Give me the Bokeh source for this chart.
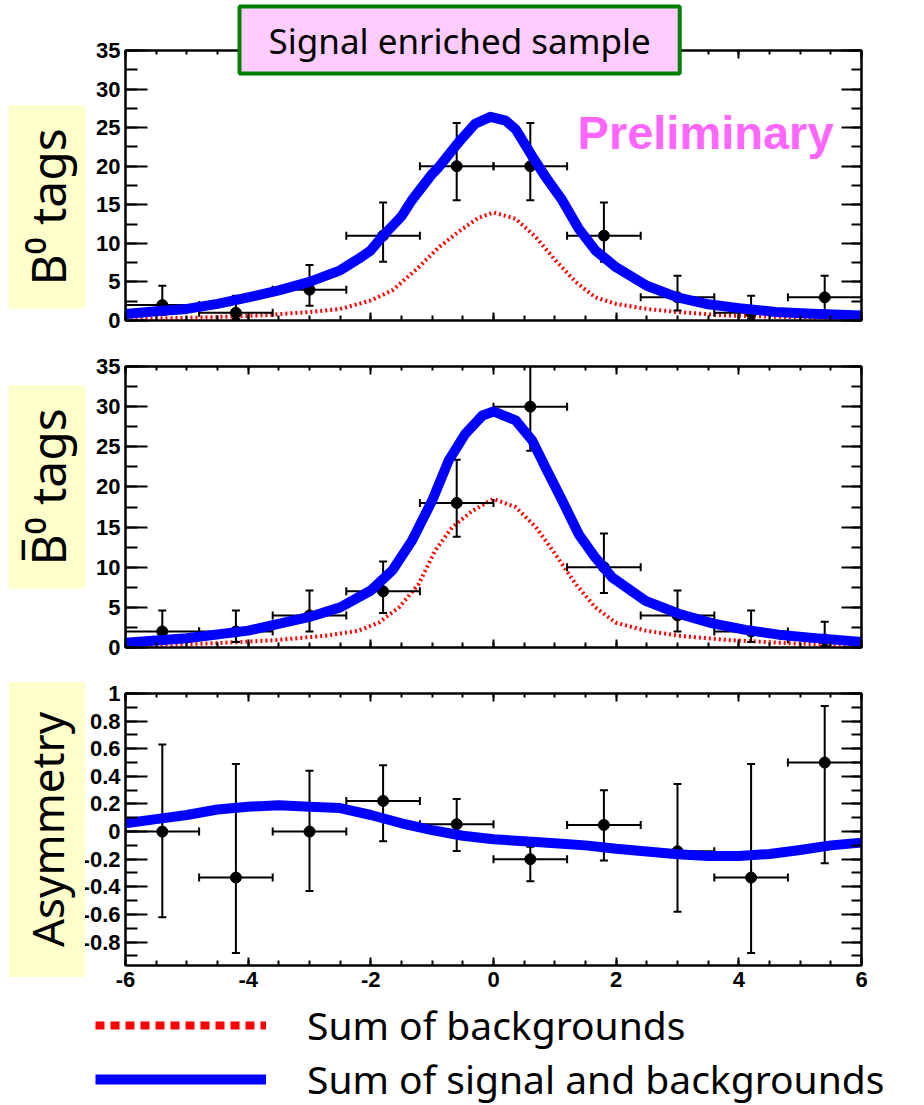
import math
from bokeh.plotting import figure
from bokeh.layouts import column
from bokeh.models import (Range1d, LinearAxis, Label, Legend, LegendItem, ColumnDataSource,
                          CustomJSTickFormatter, SingleIntervalTicker, Title)
from bokeh.embed import file_html
from bokeh.resources import INLINE

# ---------------- data ----------------
bin_centers = [-5.4, -4.2, -3.0, -1.8, -0.6, 0.6, 1.8, 3.0, 4.2, 5.4]
bin_half_width = 0.6

# B0 tags
b0_counts = [2, 1, 4, 11, 20, 20, 11, 3, 1, 3]
b0_err_hi = [4.5, 3.2, 7.2, 15.3, 25.6, 25.6, 15.3, 5.8, 3.2, 5.8]
b0_err_lo = [0.7, 0.2, 1.9, 7.6, 15.6, 15.6, 7.6, 1.3, 0.2, 1.3]

b0_fit_x = [-6, -5.5, -5, -4.5, -4, -3.5, -3, -2.5, -2.2, -2, -1.8, -1.5, -1.33, -1, -0.89,
            -0.57, -0.3, -0.05, 0.2, 0.36, 0.63, 0.85, 1.12, 1.39, 1.66, 2, 2.5, 3, 3.5, 4,
            4.6, 5.2, 6]
b0_fit_y = [0.85, 1.2, 1.5, 2.15, 3.0, 3.9, 5.0, 6.5, 8.0, 9.1, 11.0, 13.5, 15.6, 19.0, 19.9,
            23.1, 25.5, 26.4, 25.9, 24.8, 21.3, 18.6, 15.6, 11.9, 9.1, 6.9, 4.5, 3.0, 2.1, 1.6,
            1.1, 0.87, 0.65]
b0_bkg_x = [-6, -4.9, -3.8, -3, -2.5, -2, -1.65, -1.22, -0.89, -0.57, -0.25, 0, 0.36, 0.69,
            1.01, 1.34, 1.66, 2, 2.5, 3, 3.8, 4.9, 6]
b0_bkg_y = [0.2, 0.35, 0.65, 1.1, 1.5, 2.6, 3.9, 6.9, 9.5, 11.5, 13.3, 14.0, 13.2, 10.8,
            7.8, 5.0, 3.0, 2.15, 1.5, 1.1, 0.65, 0.43, 0.2]

# B0-bar tags
b0bar_counts = [2, 2, 4, 7, 18, 30, 10, 4, 2, 1]
b0bar_err_hi = [4.6, 4.6, 7.1, 10.7, 23.4, 36.6, 14.2, 7.1, 4.6, 3.2]
b0bar_err_lo = [0.7, 0.7, 2.0, 4.3, 13.8, 24.5, 6.8, 2.0, 0.7, 0.2]

b0bar_fit_x = [-6, -5, -4, -3, -2.5, -2, -1.65, -1.33, -1, -0.73, -0.46, -0.18, 0, 0.36, 0.63,
               0.85, 1.12, 1.39, 1.66, 1.94, 2.48, 3.02, 3.57, 4.11, 4.65, 5.2, 6]
b0bar_fit_y = [0.6, 1.15, 2.1, 3.8, 5.0, 7.1, 9.6, 13.3, 18.3, 23.3, 26.6, 28.9, 29.4, 28.3,
               25.8, 22.4, 18.3, 14.1, 11.2, 8.7, 5.8, 4.2, 3.0, 2.2, 1.6, 1.2, 0.7]
b0bar_bkg_x = [-6, -4.64, -3.55, -2.74, -2.2, -1.87, -1.54, -1.22, -0.95, -0.67, -0.35, 0,
               0.36, 0.69, 1.01, 1.34, 1.66, 1.99, 2.48, 3.02, 3.84, 4.92, 6]
b0bar_bkg_y = [0.2, 0.5, 0.92, 1.46, 2.1, 3.1, 5.0, 7.9, 12.1, 15.0, 17.0, 18.5, 17.5, 15.0,
               11.6, 7.9, 5.0, 3.1, 2.1, 1.46, 0.92, 0.5, 0.2]

# Asymmetry
asym_vals = [0.0, -0.333, 0.0, 0.222, 0.053, -0.2, 0.048, -0.143, -0.333, 0.5]
asym_err_hi = [0.63, 0.49, 0.44, 0.48, 0.235, -0.11, 0.30, 0.345, 0.49, 0.91]
asym_err_lo = [-0.62, -0.88, -0.43, -0.07, -0.14, -0.36, -0.21, -0.58, -0.88, -0.23]

asym_fit_x = [-6, -5.5, -5, -4.5, -4, -3.5, -3, -2.5, -2, -1.5, -1, -0.5, 0, 0.5, 1, 1.5, 2,
              2.5, 3, 3.5, 4, 4.5, 5, 5.5, 6]
asym_fit_y = [0.06, 0.09, 0.12, 0.16, 0.18, 0.19, 0.18, 0.17, 0.12, 0.06, 0.01, -0.03, -0.055,
              -0.07, -0.085, -0.10, -0.125, -0.145, -0.165, -0.177, -0.177, -0.162, -0.133,
              -0.10, -0.08]

legend_labels = ["Sum of backgrounds", "Sum of signal and backgrounds"]

# ---------------- styling helpers ----------------
TICK_FONT = "Liberation Sans"
LABEL_FONT = "Noto Sans"
FMT = CustomJSTickFormatter(code="""
    const v = Math.round(tick * 10) / 10;
    return (Math.abs(v) < 1e-9 ? 0 : v).toString();
""")
BLANK = CustomJSTickFormatter(code="return '';")


def make_panel(frame_h, top_b, bot_b, y0, y1, y_interval, show_x_labels):
    p = figure(frame_width=736, frame_height=frame_h, x_range=Range1d(-6, 6),
               y_range=Range1d(y0, y1), toolbar_location=None, output_backend="svg",
               min_border_left=125, min_border_right=59, min_border_top=top_b,
               min_border_bottom=bot_b)
    p.grid.visible = False
    p.outline_line_color = "black"
    p.outline_line_width = 2
    p.background_fill_color = "white"

    xt = SingleIntervalTicker(interval=2, num_minor_ticks=4)
    yt = SingleIntervalTicker(interval=y_interval, num_minor_ticks=2)

    ax = p.xaxis[0]
    ax.ticker = xt
    ax.formatter = FMT if show_x_labels else BLANK
    ax.major_tick_in, ax.major_tick_out = 8, 0
    ax.minor_tick_in, ax.minor_tick_out = 5, 0
    ay = p.yaxis[0]
    ay.ticker = yt
    ay.formatter = FMT
    ay.major_tick_in, ay.major_tick_out = 22, 0
    ay.minor_tick_in, ay.minor_tick_out = 12, 0

    top = LinearAxis(ticker=xt, formatter=BLANK, major_label_text_font_size="0px",
                     major_label_standoff=0,
                     major_tick_in=8, major_tick_out=0, minor_tick_in=4, minor_tick_out=0)
    right = LinearAxis(ticker=yt, formatter=BLANK, major_label_text_font_size="0px",
                       major_label_standoff=0,
                       major_tick_in=20, major_tick_out=0, minor_tick_in=10, minor_tick_out=0)
    p.add_layout(top, "above")
    p.add_layout(right, "right")

    for a in (ax, ay, top, right):
        a.axis_line_width = 2
        a.axis_line_color = "black"
        a.major_tick_line_width = 2
        a.minor_tick_line_width = 2
        a.major_tick_line_color = "black"
        a.minor_tick_line_color = "black"
        a.major_label_text_font = TICK_FONT
        a.major_label_text_font_style = "bold"
        a.major_label_text_color = "black"
    ay.major_label_text_font_size = "22px"
    ay.major_label_standoff = 5
    if show_x_labels:
        ax.major_label_text_font_size = "22px"
        ax.major_label_standoff = 6
    else:
        ax.major_label_text_font_size = "0px"
        ax.major_label_standoff = 0
    return p


def draw_points(p, vals, hi, lo):
    src = ColumnDataSource(dict(
        x=bin_centers, y=vals, hi=hi, lo=lo,
        xl=[c - bin_half_width for c in bin_centers],
        xr=[c + bin_half_width for c in bin_centers]))
    p.segment(x0="x", y0="lo", x1="x", y1="hi", source=src, line_color="black", line_width=2)
    p.segment(x0="xl", y0="y", x1="xr", y1="y", source=src, line_color="black", line_width=2)
    p.scatter(x="x", y="hi", marker="dash", size=8, line_color="black", line_width=2, source=src)
    p.scatter(x="x", y="lo", marker="dash", size=8, line_color="black", line_width=2, source=src)
    p.scatter(x="xl", y="y", marker="dash", angle=math.pi / 2, size=8, line_color="black",
              line_width=2, source=src)
    p.scatter(x="xr", y="y", marker="dash", angle=math.pi / 2, size=8, line_color="black",
              line_width=2, source=src)
    p.scatter(x="x", y="y", size=11, marker="circle", fill_color="black", line_color="black",
              source=src)


def side_title(p, text, align, offset, standoff, size, padding):
    p.add_layout(Title(text=text, align=align, offset=offset, standoff=standoff,
                       vertical_align="middle",
                       text_font=LABEL_FONT, text_font_size=size, text_font_style="normal",
                       text_color="black", background_fill_color="#ffffcc",
                       padding=padding), "left")


# ---------------- top panel: B0 tags ----------------
p1 = make_panel(270, 50, 20, 0, 35, 5, False)
p1.line(b0_bkg_x, b0_bkg_y, line_color="red", line_width=4, line_dash="2 3")
draw_points(p1, b0_counts, b0_err_hi, b0_err_lo)
p1.line(b0_fit_x, b0_fit_y, line_color="blue", line_width=10, line_join="round")
side_title(p1, "B\u2070 tags", "left", 12, -20, "48px", (23, 6))
p1.add_layout(Label(x=1.37, y=24.37, text="Preliminary", text_font="Liberation Sans",
                    text_font_size="47px", text_font_style="bold", text_color="#ff66ff",
                    text_align="left", text_baseline="alphabetic"))
p1.add_layout(Title(text="Signal enriched sample", align="left", offset=114, standoff=-50,
                    vertical_align="top",
                    text_font=LABEL_FONT, text_font_size="35px", text_font_style="normal",
                    text_color="black", background_fill_color="#ffccff",
                    border_line_color="#008000", border_line_width=4, padding=(29, 10)),
              "above")

# ---------------- middle panel: B0-bar tags ----------------
p2 = make_panel(281, 26, 20, 0, 35, 5, False)
p2.line(b0bar_bkg_x, b0bar_bkg_y, line_color="red", line_width=4, line_dash="2 3")
draw_points(p2, b0bar_counts, b0bar_err_hi, b0bar_err_lo)
p2.line(b0bar_fit_x, b0bar_fit_y, line_color="blue", line_width=10, line_join="round")
side_title(p2, "B\u0305\u2070 tags", "left", 59, -20, "48px", (23, 6))

# ---------------- bottom panel: Asymmetry ----------------
p3 = make_panel(272, 26, 30, -0.97, 1.0, 0.2, True)
draw_points(p3, asym_vals, asym_err_hi, asym_err_lo)
p3.line(asym_fit_x, asym_fit_y, line_color="blue", line_width=10, line_join="round")
side_title(p3, "Asymmetry", "center", 0, -57, "44px", (30, 8))

# ---------------- legend strip ----------------
# the two key lines reuse the curve data but lie outside this strip's ranges,
# so only their legend samples are visible
p4 = figure(width=920, height=110, x_range=Range1d(100, 101), y_range=Range1d(100, 101),
            toolbar_location=None, output_backend="svg",
            min_border_left=92, min_border_right=0, min_border_top=0, min_border_bottom=0,
            x_axis_location=None, y_axis_location=None)
if "frame_align" in p4.properties():
    p4.frame_align = False
p4.grid.visible = False
p4.outline_line_color = None
r_bkg_key = p4.line(b0_bkg_x, b0_bkg_y, line_color="red", line_width=8, line_dash="9 6")
r_sig_key = p4.line(asym_fit_x, asym_fit_y, line_color="blue", line_width=10)
legend = Legend(items=[LegendItem(label=legend_labels[0], renderers=[r_bkg_key]),
                       LegendItem(label=legend_labels[1], renderers=[r_sig_key])],
                location="top_left", glyph_width=171, glyph_height=40, label_height=40,
                label_standoff=41, spacing=1, padding=0, margin=3,
                border_line_color=None, background_fill_alpha=0,
                label_text_font=LABEL_FONT, label_text_font_size="39px",
                label_text_color="black")
p4.add_layout(legend)

layout = column(column(p1, p2, p3, spacing=0), p4, spacing=0)
open("out.html", "w").write(file_html(layout, INLINE))
